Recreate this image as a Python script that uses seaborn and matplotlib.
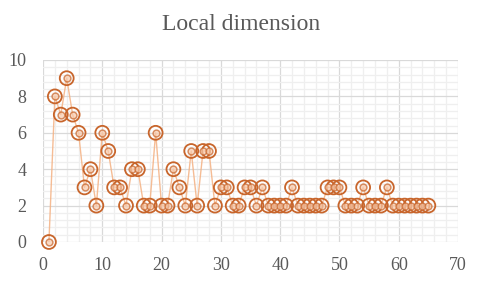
import numpy as np
import pandas as pd
import matplotlib
matplotlib.use("Agg")
import matplotlib.pyplot as plt
from matplotlib.ticker import MultipleLocator
import seaborn as sns

# data
index = list(range(1, 66))
local_dim = [0, 8, 7, 9, 7, 6, 3, 4, 2, 6,
             5, 3, 3, 2, 4, 4, 2, 2, 6, 2,
             2, 4, 3, 2, 5, 2, 5, 5, 2, 3,
             3, 2, 2, 3, 3, 2, 3, 2, 2, 2,
             2, 3, 2, 2, 2, 2, 2, 3, 3, 3,
             2, 2, 2, 3, 2, 2, 2, 3, 2, 2,
             2, 2, 2, 2, 2]

df = pd.DataFrame({"x": index, "y": local_dim})

sns.set_style("white")
plt.rcParams['font.family'] = ['Liberation Serif', 'DejaVu Serif']

fig = plt.figure(figsize=(4.8, 2.82), dpi=100)
ax = fig.add_axes([43/480, 1-242/282, (458-43)/480, (242-60)/282])

orange = "#C8652B"
light = "#F4B183"

sns.lineplot(data=df, x="x", y="y", ax=ax, color=light, lw=1.0, alpha=0.85, zorder=2)
outer = sns.scatterplot(data=df, x="x", y="y", ax=ax, s=100, facecolor="none",
                        edgecolor=orange, linewidth=1.3, zorder=3)
sns.scatterplot(data=df, x="x", y="y", ax=ax, s=24, color="#F8CBAD", alpha=0.7,
                edgecolor=orange, linewidth=1.1, zorder=4)
for c in ax.collections:
    c.set_clip_on(False)

ax.set_xlim(0, 70)
ax.set_ylim(0, 10)
ax.xaxis.set_major_locator(MultipleLocator(10))
ax.xaxis.set_minor_locator(MultipleLocator(2))
ax.yaxis.set_major_locator(MultipleLocator(2))
ax.yaxis.set_minor_locator(MultipleLocator(0.4))
ax.grid(which="major", color="#D9D9D9", lw=0.9, zorder=0)
ax.grid(which="minor", color="#EFEFEF", lw=0.9, zorder=0)
ax.set_axisbelow(True)
for s in ax.spines.values():
    s.set_visible(False)
ax.tick_params(which="both", length=0, labelsize=13, labelcolor="#595959")
ax.tick_params(axis="x", pad=11)
ax.tick_params(axis="y", pad=12)
ax.set_xlabel("")
ax.set_ylabel("")

fig.text(0.502, 1-24/282, "Local dimension", ha="center", va="center",
         fontsize=17, color="#595959")

fig.savefig("out.png", dpi=100)
